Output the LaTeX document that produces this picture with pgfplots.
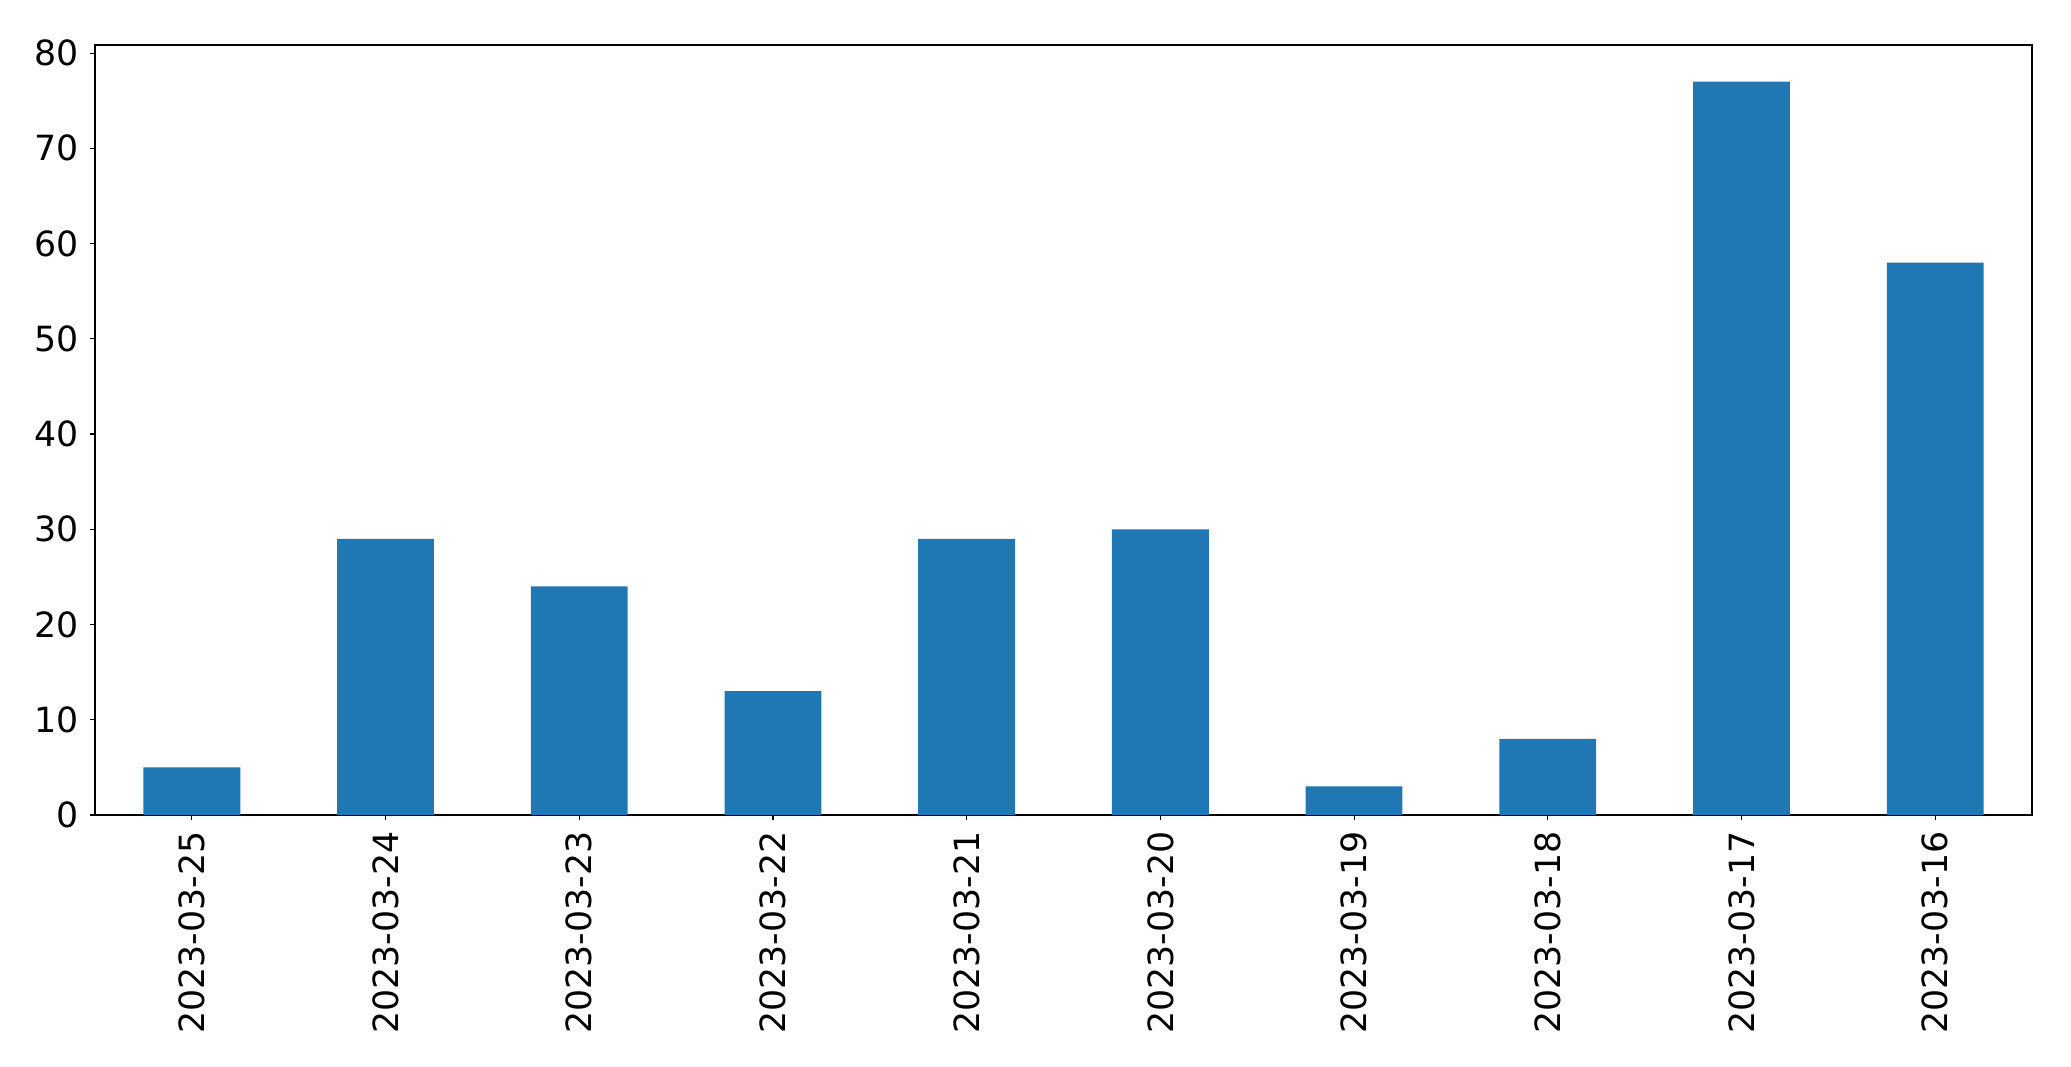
\documentclass[border=0pt]{standalone}
\usepackage{fontspec}
\setmainfont{DejaVu Sans}
\usepackage{pgfplots}
\pgfplotsset{compat=1.18}
\definecolor{mplblue}{HTML}{1F77B4}
\begin{document}
\fontsize{25}{30}\selectfont
\begin{tikzpicture}
\begin{axis}[
  scale only axis,
  width=1394.64pt, height=554.4pt,
  xmin=-0.5, xmax=9.5, ymin=0, ymax=80.85,
  ybar, bar width=0.5,
  xtick={0,...,9},
  xticklabels={2023-03-25,2023-03-24,2023-03-23,2023-03-22,2023-03-21,2023-03-20,2023-03-19,2023-03-18,2023-03-17,2023-03-16},
  x tick label style={rotate=90, anchor=east},
  ytick={0,10,...,80},
  tick align=outside,
  tick pos=left,
  major tick length=3.5pt,
  axis line style={line width=0.8pt},
  every tick/.style={black, line width=0.8pt},
  /pgf/number format/assume math mode=true,
  ticklabel style={font=\fontsize{25}{30}\selectfont},
]
\addplot[fill=mplblue, draw=none] coordinates {(0,5) (1,29) (2,24) (3,13) (4,29) (5,30) (6,3) (7,8) (8,77) (9,58)};
\end{axis}
\path (current axis.south west) ++(-68.4pt,-181.44pt) coordinate (bl);
\path (current axis.north east) ++(28.08pt,32.4pt) coordinate (tr);
\useasboundingbox (bl) rectangle (tr);
\end{tikzpicture}
\end{document}
